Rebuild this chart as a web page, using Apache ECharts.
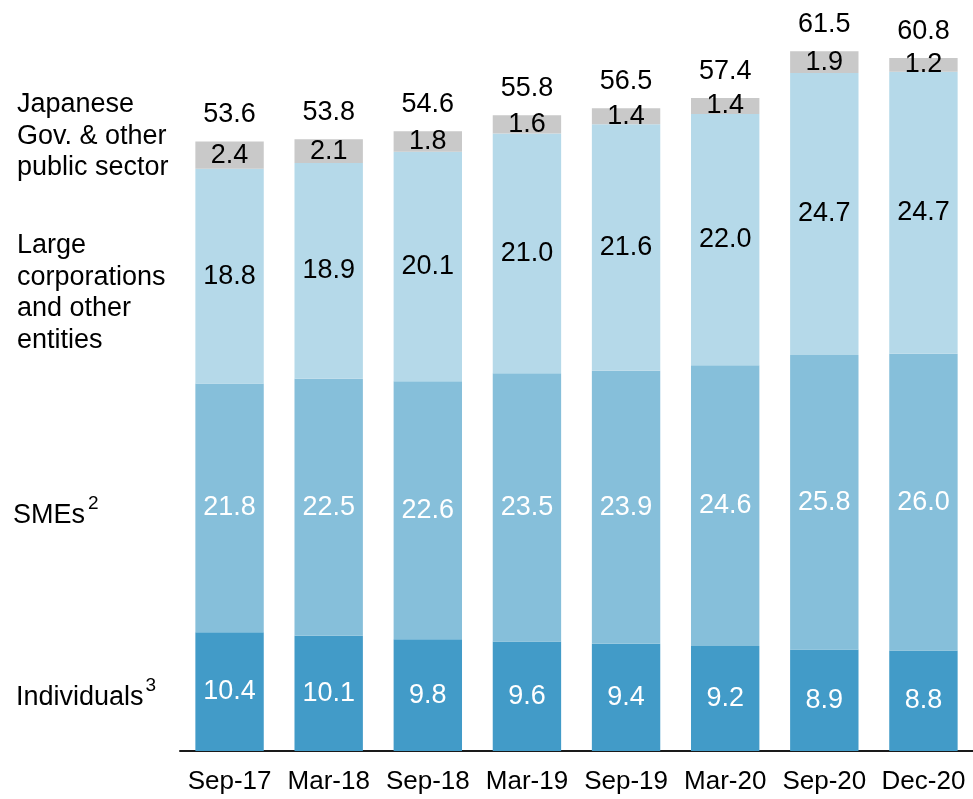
<!DOCTYPE html>
<html>
<head>
<meta charset="utf-8">
<script src="https://cdn.jsdelivr.net/npm/echarts@6/dist/echarts.min.js"></script>
<style>
  html, body { margin: 0; padding: 0; background: #ffffff; }
  #chart { width: 973px; height: 799px; }
</style>
</head>
<body>
<div id="chart"></div>
<script>
// Loan book by borrower segment, stacked per reporting date
const categories = ['Sep-17', 'Mar-18', 'Sep-18', 'Mar-19', 'Sep-19', 'Mar-20', 'Sep-20', 'Dec-20'];
const individuals = [10.4, 10.1, 9.8, 9.6, 9.4, 9.2, 8.9, 8.8];
const smes = [21.8, 22.5, 22.6, 23.5, 23.9, 24.6, 25.8, 26.0];
const largeCorporations = [18.8, 18.9, 20.1, 21.0, 21.6, 22.0, 24.7, 24.7];
const publicSector = [2.4, 2.1, 1.8, 1.6, 1.4, 1.4, 1.9, 1.2];
const totals = [53.6, 53.8, 54.6, 55.8, 56.5, 57.4, 61.5, 60.8];

const FONT = '"Liberation Sans", Arial, sans-serif';
const SIZE = 27;

function segment(name, data, color, textColor) {
  return {
    name: name,
    type: 'bar',
    stack: 'total',
    data: data,
    barCategoryGap: '31%',
    itemStyle: { color: color },
    label: {
      show: true,
      position: 'inside',
      color: textColor,
      fontFamily: FONT,
      fontSize: SIZE,
      formatter: p => p.value.toFixed(1)
    },
    emphasis: { disabled: true },
    silent: true
  };
}

const chart = echarts.init(document.getElementById('chart'), null, { renderer: 'canvas' });

chart.setOption({
  animation: false,
  backgroundColor: '#ffffff',
  grid: { left: 180, right: 0, top: 9, bottom: 48 },
  xAxis: {
    type: 'category',
    data: categories,
    axisLine: { show: true, lineStyle: { color: '#1a1a1a', width: 2 } },
    axisTick: { show: false },
    axisLabel: { color: '#000000', fontFamily: FONT, fontSize: 26, margin: 18, interval: 0 }
  },
  yAxis: {
    type: 'value',
    min: 0,
    max: 65,
    show: false,
    splitLine: { show: false }
  },
  series: [
    segment('Individuals', individuals, '#429bc8', '#ffffff'),
    segment('SMEs', smes, '#86bfda', '#ffffff'),
    segment('Large corporations and other entities', largeCorporations, '#b5d9e9', '#000000'),
    segment('Japanese Gov. & other public sector', publicSector, '#c9c9c9', '#000000'),
    {
      // zero-height cap carrying the total above each stack
      name: 'Total',
      type: 'bar',
      stack: 'total',
      data: totals.map(() => 0),
      itemStyle: { color: 'transparent' },
      label: {
        show: true,
        position: 'top',
        distance: 13,
        color: '#000000',
        fontFamily: FONT,
        fontSize: SIZE,
        formatter: p => totals[p.dataIndex].toFixed(1)
      },
      silent: true
    }
  ],
  graphic: [
    {
      type: 'text', left: 17, top: 89,
      style: { text: 'Japanese\nGov. & other\npublic sector', font: SIZE + 'px ' + FONT, fill: '#000000', lineHeight: 31.5 }
    },
    {
      type: 'text', left: 17, top: 230,
      style: { text: 'Large\ncorporations\nand other\nentities', font: SIZE + 'px ' + FONT, fill: '#000000', lineHeight: 31.5 }
    },
    {
      type: 'text', left: 13, top: 494,
      style: {
        text: '{m|SMEs}{s|2}',
        rich: {
          m: { fontFamily: FONT, fontSize: SIZE, fill: '#000000', verticalAlign: 'bottom' },
          s: { fontFamily: FONT, fontSize: 19, fill: '#000000', padding: [0, 0, 16, 3], verticalAlign: 'top' }
        }
      }
    },
    {
      type: 'text', left: 16, top: 676,
      style: {
        text: '{m|Individuals}{s|3}',
        rich: {
          m: { fontFamily: FONT, fontSize: SIZE, fill: '#000000', verticalAlign: 'bottom' },
          s: { fontFamily: FONT, fontSize: 19, fill: '#000000', padding: [0, 0, 16, 2], verticalAlign: 'top' }
        }
      }
    }
  ]
});
</script>
</body>
</html>
